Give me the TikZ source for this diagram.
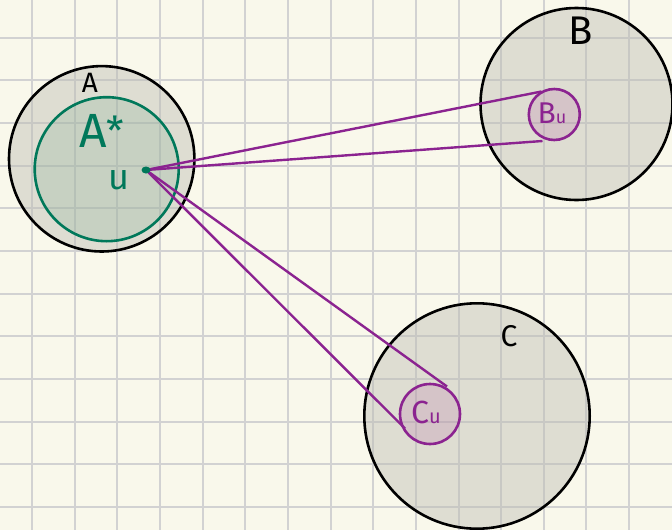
\documentclass[tikz,border=0pt]{standalone}
\usepackage{fontspec}
\setmainfont{Fira Sans}
\definecolor{bgcol}{HTML}{F9F8EB}
\definecolor{gridcol}{HTML}{D2D2D2}
\definecolor{circgray}{RGB}{190,190,180}
\definecolor{greencol}{HTML}{00785A}
\definecolor{greenfill}{RGB}{120,170,140}
\definecolor{purplecol}{HTML}{8B2390}
\definecolor{purplefill}{RGB}{180,100,160}
\begin{document}
\begin{tikzpicture}[x=1pt,y=-1pt,
  gridline/.style={draw=gridcol,line width=2pt},
  bigset/.style={circle,inner sep=0pt,draw=black,line width=2.6pt,fill=circgray,fill opacity=0.45,draw opacity=1},
  greenset/.style={circle,inner sep=0pt,draw=greencol,line width=2.6pt,fill=greenfill,fill opacity=0.22,draw opacity=1},
  smallset/.style={circle,inner sep=0pt,draw=purplecol,line width=2.6pt,fill=purplefill,fill opacity=0.2,draw opacity=1},
  link/.style={draw=purplecol,line width=2.4pt},
  lbl/.style={inner sep=0pt,text=black},
]
\useasboundingbox (0,0) rectangle (672,530);
\fill[bgcol] (0,0) rectangle (672,530);
\foreach \i in {0,...,14} \draw[gridline] ({32+42.65*\i},0) -- ({32+42.65*\i},530);
\foreach \j in {0,...,11} \draw[gridline] (0,{37.7+42.65*\j}) -- (672,{37.7+42.65*\j});

\node[bigset,minimum size=185.4pt] (A) at (101.7,158.8) {};
\node[bigset,minimum size=192pt] (B) at (576.5,104) {};
\node[bigset,minimum size=225.4pt] (C) at (477,416) {};
\node[greenset,minimum size=144pt] (Astar) at (106.7,169.2) {};
\node[smallset,minimum size=51pt] (Bu) at (554.3,114.5) {};
\node[smallset,minimum size=60pt] (Cu) at (430,414) {};

\coordinate (u) at (146,170);
\coordinate (b1) at (541.5,91.5);
\coordinate (b2) at (542.5,141);
\coordinate (c1) at (447,386.5);
\coordinate (c2) at (405,428.5);
\draw[link] (u) -- (b1);
\draw[link] (u) -- (b2);
\draw[link] (u) -- (c1);
\draw[link] (u) -- (c2);
\fill[greencol] (u) ellipse (4.5pt and 3.5pt);

\node[lbl,font=\fontsize{28}{28}\selectfont] (labA) at (90,83) {A};
\node[lbl,font=\fontsize{40}{40}\selectfont] (labB) at (581,31) {B};
\node[lbl,font=\fontsize{30}{30}\selectfont] (labC) at (509,336) {C};
\node[lbl,text=greencol,font=\fontsize{48}{48}\selectfont] (labAstar) at (102,131) {A\hspace{-1pt}\raisebox{2pt}{\fontsize{40}{40}\selectfont*}};
\node[lbl,text=greencol,font=\fontsize{36}{36}\selectfont] (labu) at (119,180) {u};
\node[lbl,text=purplecol,font=\fontsize{30}{30}\selectfont] (labBu) at (552,113) {B{\fontsize{18}{18}\selectfont u}};
\node[lbl,text=purplecol,font=\fontsize{32}{32}\selectfont] (labCu) at (426,412) {C{\fontsize{20}{20}\selectfont u}};
\end{tikzpicture}
\end{document}
